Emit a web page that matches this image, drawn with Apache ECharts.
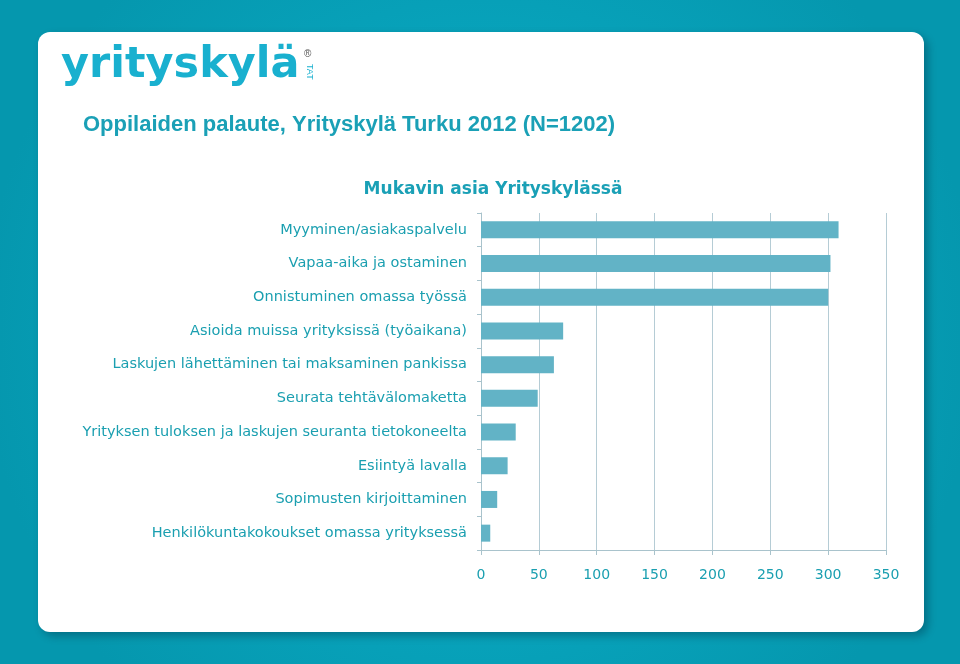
<!DOCTYPE html>
<html>
<head>
<meta charset="utf-8">
<script src="https://cdn.jsdelivr.net/npm/echarts@6/dist/echarts.min.js"></script>
<style>
html,body{margin:0;padding:0;background:#07a7c1;}
#chart{width:960px;height:664px;}
</style>
</head>
<body>
<div id="chart"></div>
<script>
const categories = [
  "Myyminen/asiakaspalvelu",
  "Vapaa-aika ja ostaminen",
  "Onnistuminen omassa työssä",
  "Asioida muissa yrityksissä (työaikana)",
  "Laskujen lähettäminen tai maksaminen pankissa",
  "Seurata tehtävälomaketta",
  "Yrityksen tuloksen ja laskujen seuranta tietokoneelta",
  "Esiintyä lavalla",
  "Sopimusten kirjoittaminen",
  "Henkilökuntakokoukset omassa yrityksessä"
];
const values = [309, 302, 300, 71, 63, 49, 30, 23, 14, 8];
const xTicks = [0, 50, 100, 150, 200, 250, 300, 350];

const teal = "#1a9fb0";
const chart = echarts.init(document.getElementById('chart'), null, {renderer: 'canvas'});
chart.setOption({
  backgroundColor: '#07a7c1',
  animation: false,
  graphic: [
    {type: 'rect', z: -10, shape: {x: 0, y: 0, width: 960, height: 664},
     style: {fill: {type: 'radial', x: 0.5, y: 0.5, r: 0.75,
       colorStops: [{offset: 0, color: '#0bb2cc'}, {offset: 1, color: '#0597ae'}]}}},
    {type: 'rect', z: -9, shape: {x: 38, y: 32, width: 886, height: 600, r: 12},
     style: {fill: '#ffffff', shadowBlur: 10, shadowOffsetX: 4, shadowOffsetY: 4, shadowColor: 'rgba(0,60,80,0.45)'}},
    {type: 'text', left: 61, top: 44, z: 5,
     style: {text: 'yrityskylä', fontSize: 43, fontWeight: 900, fontFamily: 'DejaVu Sans', fill: '#19b0cf'}},
    {type: 'text', x: 304, y: 49, z: 5,
     style: {text: '®', fontSize: 10, fontFamily: 'Liberation Sans', fill: '#555'}},
    {type: 'text', x: 314, y: 64, rotation: -Math.PI/2, z: 5,
     style: {text: 'TAT', fontSize: 9, fontFamily: 'Liberation Sans', fill: '#19b0cf'}},
    {type: 'text', left: 83, top: 114, z: 5,
     style: {text: 'Oppilaiden palaute, Yrityskylä Turku 2012 (N=1202)', fontSize: 22, fontWeight: 'bold',
       fontFamily: 'Liberation Sans', fill: '#1aa0b6'}}
  ],
  title: {
    text: 'Mukavin asia Yrityskylässä',
    left: 488, top: 176, textAlign: 'center',
    textStyle: {fontSize: 17, fontWeight: 'bold', fontFamily: 'DejaVu Sans', color: '#1aa0b6'}
  },
  grid: {left: 481, right: 74, top: 213, bottom: 114, containLabel: false},
  xAxis: {
    type: 'value', min: 0, max: 350, interval: 50,
    axisLine: {show: true, lineStyle: {color: '#a9c3cc', width: 1}},
    axisTick: {show: true, length: 5, lineStyle: {color: '#a9c3cc'}},
    splitLine: {show: true, lineStyle: {color: '#b5ccd5', width: 1}},
    axisLabel: {color: teal, fontSize: 14, fontFamily: 'DejaVu Sans', margin: 18,
      formatter: v => xTicks.includes(v) ? String(v) : ''}
  },
  yAxis: {
    type: 'category', data: categories, inverse: true,
    axisLine: {show: true, lineStyle: {color: '#a9c3cc', width: 1}},
    axisTick: {show: true, length: 4, lineStyle: {color: '#a9c3cc'}},
    axisLabel: {color: teal, fontSize: 14.5, fontFamily: 'DejaVu Sans', margin: 14}
  },
  series: [{
    type: 'bar', data: values, barWidth: 17,
    itemStyle: {color: '#62b3c6'}
  }]
});
</script>
</body>
</html>
